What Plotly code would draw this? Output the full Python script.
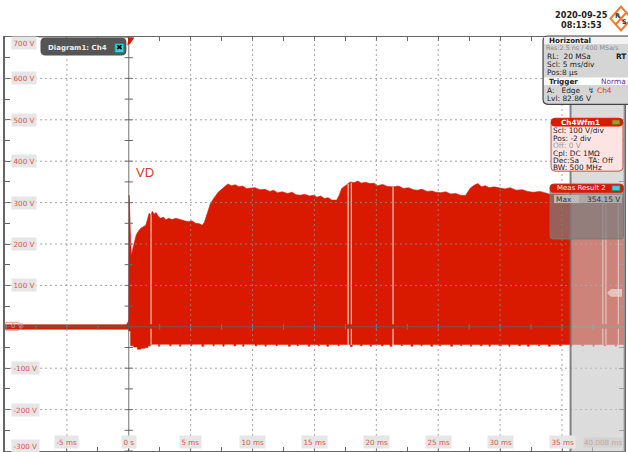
import plotly.graph_objects as go

# ---------- data (ms, V) ----------
upper_t = [-10, -0.2, -0.05, 0.0, 0.02, 0.06, 0.12, 0.2, 0.3, 0.43, 0.6, 0.8, 0.97, 1.2, 1.37, 1.5, 1.64, 1.8, 1.9, 2.05, 2.2, 2.4, 2.58,
           2.8, 3.0, 3.2, 3.5, 3.8, 4.19, 4.5, 4.8, 5.1, 5.4, 5.7, 5.94, 6.1, 6.3, 6.6, 6.9, 7.26, 7.5, 7.82, 8.0, 8.3, 8.6,
           8.9, 9.2, 9.5, 9.84, 10.2, 10.6, 11.0, 11.4, 11.7, 12.0, 12.4, 12.8, 13.2, 13.5, 13.87, 14.2, 14.6, 15.0, 15.2, 15.5,
           15.8, 16.1, 16.4, 16.8, 17.0, 17.2, 17.5, 17.7, 17.9, 18.2, 18.5, 18.8, 19.1, 19.5, 19.8, 20.1, 20.5, 20.9, 21.4,
           21.8, 22.2, 22.6, 23.0, 23.3, 23.7, 24.1, 24.5, 24.8, 25.2, 25.6, 26.0, 26.4, 26.8, 27.2, 27.4, 27.6, 27.9, 28.2,
           28.5, 28.8, 29.1, 29.5, 30.0, 30.4, 30.8, 31.3, 31.8, 32.2, 32.7, 33.2, 33.6, 34.0, 35.0, 36.0, 37.0, 38.0, 39.0, 40.008]
upper_v = [5, 5, 12, 20, 318, 300, 230, 173, 185, 205, 222, 232, 238, 242, 245, 258, 274, 270, 279, 272, 276, 266, 262,
           265, 258, 262, 259, 262, 258, 256, 254, 256, 250, 249, 245, 252, 270, 298, 312, 326, 332, 342, 345, 341, 343,
           338, 340, 334, 335, 336, 331, 332, 327, 330, 324, 326, 322, 325, 319, 318, 320, 316, 318, 313, 316,
           310, 312, 306, 306, 318, 334, 340, 346, 350, 348, 352, 347, 349, 346, 347, 341, 344, 339, 338,
           340, 334, 336, 331, 330, 332, 327, 328, 325, 324, 326, 321, 322, 318, 317, 325, 335, 342, 346,
           338, 341, 336, 338, 335, 333, 336, 330, 331, 327, 325, 327, 324, 320, 319, 317, 318, 314, 315, 312]
lower_t = [-10, -0.05, 0.0, 0.15, 0.4, 0.7, 1.0, 1.3, 1.55, 1.75, 2.4, 2.5, 3.3, 3.42, 4.1, 4.2, 5.0, 5.1, 5.9, 6.05, 6.8, 6.9, 7.6, 7.7,
           8.5, 8.65, 9.2, 9.3, 10.2, 10.35, 11.0, 11.1, 11.9, 12.0, 12.9, 13.05, 13.6, 13.7, 14.5, 14.62, 15.3, 15.4, 16.0, 16.15,
           16.9, 17.0, 17.9, 18.05, 18.7, 18.85, 19.5, 19.6, 20.4, 20.55, 21.1, 21.25, 22.0, 22.1, 22.8, 22.95, 23.6, 23.7, 24.4, 24.55,
           25.1, 25.2, 26.0, 26.15, 26.8, 26.9, 27.6, 27.7, 28.4, 28.55, 29.1, 29.2, 29.9, 30.1, 30.7, 30.8, 31.5, 31.65, 32.2, 32.35,
           33.1, 33.2, 33.9, 34.05, 34.8, 34.95, 35.7, 35.8, 36.6, 36.75, 37.5, 37.6, 38.4, 38.55, 39.3, 39.4, 40.008]
lower_v = [-6, -6, -10, -46, -49, -54, -52, -50, -46, -42, -47, -42, -46, -42, -47, -42, -46, -42, -47, -42, -46, -42, -47, -42,
           -46, -42, -47, -42, -46, -43, -47, -43, -46, -43, -47, -43, -46, -43, -47, -43, -46, -43, -47, -43,
           -46, -43, -48, -43, -46, -43, -47, -43, -46, -43, -47, -43, -46, -43, -47, -43, -46, -43, -47, -43,
           -46, -43, -47, -43, -46, -43, -47, -43, -46, -43, -47, -43, -46, -43, -47, -43, -46, -43, -47, -43,
           -46, -43, -47, -43, -46, -43, -47, -43, -46, -43, -47, -43, -46, -43, -47, -43, -43]
gap_t = [1.8, 17.72, 17.98, 21.35, 38.3, 38.55, 39.55]
gap_top = [272, 345, 348, 338, 315, 315, 312]
gap_bottom = [-42, -44, -44, -44, -44, -44, -44]
x_grid = [-5, 0, 5, 10, 15, 20, 25, 30, 35]
y_grid = [600, 500, 400, 300, 200, 100, -100, -200]
x_tick_labels = ["-5 ms", "0 s", "5 ms", "10 ms", "15 ms", "20 ms", "25 ms", "30 ms", "35 ms"]
y_tick_values = [700, 600, 500, 400, 300, 200, 100, -100, -200, -300]
y_tick_labels = ["700 V", "600 V", "500 V", "400 V", "300 V", "200 V", "100 V", "-100 V", "-200 V", "-300 V"]
center_ticks_v = [650, 550, 450, 350, 250, 150, 50, -50, -150, -250, 700, 600, 500, 400, 300, 200, 100, -100, -200, -300]
center_ticks_t = [-7.5, -5, -2.5, 2.5, 5, 7.5, 10, 12.5, 15, 17.5, 20, 22.5, 25, 27.5, 30, 32.5, 35, 37.5]

W, H = 628, 452
L, R, T, B = 4.5, 4.0, 36.5, 0.5
RED = "#d91a00"
LABEL = "#d9544a"
FONT = "DejaVu Sans"


def px(x):
    return (x - L) / (W - L - R)


def py(y):
    return 1 - (y - T) / (H - T - B)


fig = go.Figure()
fig.add_trace(go.Scatter(x=upper_t, y=upper_v, mode="lines", line=dict(color=RED, width=0.6), hoverinfo="skip"))
fig.add_trace(go.Scatter(x=lower_t, y=lower_v, mode="lines", line=dict(color=RED, width=0.6, shape="hv"),
                         fill="tonexty", fillcolor=RED, hoverinfo="skip"))
# drop-outs in the envelope
gx, gy = [], []
for t, a, b in zip(gap_t, gap_top, gap_bottom):
    gx += [t, t, None, t, t, None]
    gy += [a, 6, None, -5, b, None]
fig.add_trace(go.Scatter(x=gx, y=gy, mode="lines", line=dict(color="#f6c9bf", width=1.2), hoverinfo="skip"))
# tick marks along the 0 s / 0 V centre axes
fig.add_trace(go.Scatter(x=[0] * len(center_ticks_v), y=center_ticks_v, mode="markers",
                         marker=dict(symbol="line-ew", size=6, line=dict(color="#666", width=1)), hoverinfo="skip"))
fig.add_trace(go.Scatter(x=center_ticks_t, y=[0] * len(center_ticks_t), mode="markers",
                         marker=dict(symbol="line-ns", size=4, line=dict(color="#777", width=1)), hoverinfo="skip"))

shapes = []
for v in x_grid:
    if v != 0:
        shapes.append(dict(type="line", xref="x", yref="y", x0=v, x1=v, y0=-300, y1=700, layer="above",
                           line=dict(color="rgba(140,140,140,0.8)", width=1, dash="2px,3px")))
for v in y_grid:
    shapes.append(dict(type="line", xref="x", yref="y", x0=-10, x1=40.008, y0=v, y1=v, layer="above",
                       line=dict(color="rgba(140,140,140,0.8)", width=1, dash="2px,3px")))
# centre axes
shapes.append(dict(type="line", xref="x", yref="y", x0=0, x1=0, y0=-300, y1=700, layer="above",
                   line=dict(color="rgba(90,90,90,0.85)", width=1)))
shapes.append(dict(type="line", xref="x", yref="y", x0=-10, x1=40.008, y0=0, y1=0, layer="above",
                   line=dict(color="rgba(100,100,100,0.85)", width=1)))


def rect(x0, y0, x1, y1, fill, line=None, lw=1):
    shapes.append(dict(type="rect", xref="paper", yref="paper", x0=px(x0), x1=px(x1), y0=py(y0), y1=py(y1),
                       fillcolor=fill, layer="above", line=dict(color=line or "rgba(0,0,0,0)", width=lw if line else 0)))


def path(points, fill="rgba(0,0,0,0)", line=None, lw=1, close=True):
    d = "M " + " L ".join(f"{px(a):.5f},{py(b):.5f}" for a, b in points) + (" Z" if close else "")
    shapes.append(dict(type="path", xref="paper", yref="paper", path=d, fillcolor=fill, layer="above",
                       line=dict(color=line or "rgba(0,0,0,0)", width=lw if line else 0)))


def rounded(x0, y0, x1, y1, r, fill, line=None, lw=1):
    d = (f"M {px(x0+r):.5f},{py(y0):.5f} L {px(x1-r):.5f},{py(y0):.5f} Q {px(x1):.5f},{py(y0):.5f} {px(x1):.5f},{py(y0+r):.5f} "
         f"L {px(x1):.5f},{py(y1-r):.5f} Q {px(x1):.5f},{py(y1):.5f} {px(x1-r):.5f},{py(y1):.5f} "
         f"L {px(x0+r):.5f},{py(y1):.5f} Q {px(x0):.5f},{py(y1):.5f} {px(x0):.5f},{py(y1-r):.5f} "
         f"L {px(x0):.5f},{py(y0+r):.5f} Q {px(x0):.5f},{py(y0):.5f} {px(x0+r):.5f},{py(y0):.5f} Z")
    shapes.append(dict(type="path", xref="paper", yref="paper", path=d, fillcolor=fill, layer="above",
                       line=dict(color=line or "rgba(0,0,0,0)", width=lw if line else 0)))


# gray zone past the acquisition end
rect(570.5, 37, 624.5, 452, "rgba(197,197,197,0.61)")
rect(569.5, 37, 571.5, 452, "rgba(110,110,110,0.85)")
rect(623.5, 37, 625, 452, "rgba(150,150,150,0.8)")
# diagram tab + trigger sliver
path([(127, 45), (128, 37), (134, 37), (130, 43)], fill=RED)
rounded(40, 37, 126, 55, 5, "#555555")
rect(38, 36, 128, 37, "#777777")
rect(114.5, 43, 123.5, 52, "#35d6dc", "#1a8a90", 1)
# horizontal panel
rounded(543, 35.5, 640, 104, 5, "#d5d5d5", "#444444", 1.2)
rect(544, 36.5, 628, 43.5, "#f3f3f3")
rect(544, 77, 628, 84.5, "#ffffff")
# Ch4Wfm1 panel
rounded(551, 118, 623, 171, 4, "#fde4e2", "#d94b40", 1)
rounded(551, 118, 623, 126, 4, "#d91a00", "#d91a00", 0.5)
rect(612, 119.5, 620, 124.5, "#b8921e", "#6b5a20", 0.8)
# Meas panel
rounded(550, 184, 623.5, 239, 3, "rgba(125,125,125,0.72)", "rgba(120,120,120,0.9)", 1)
rounded(550, 184, 623.5, 192.5, 4, "#d91a00", "#d91a00", 0.5)
rect(554, 195, 622, 203, "rgba(190,190,190,0.65)")
rect(554, 195, 579, 203, "rgba(200,190,185,0.8)")
rect(612, 185.5, 620, 190.5, "#35d6dc", "#1a8a90", 0.8)
# ch marker at left
path([(5.5, 322.5), (18, 322.5), (23, 326.5), (18, 330.5), (5.5, 330.5)], line="#e0837a", lw=0.8)
# TA marker
path([(622, 289), (611, 289), (607, 293), (611, 297), (622, 297)], fill="rgba(235,215,212,0.75)")
# R&S logo
path([(621, 6), (631.5, 18), (621, 30), (610.5, 18)], line="#f07a28", lw=2)
path([(615.7, 12), (626.2, 24)], line="#f07a28", lw=2, close=False)
path([(626.2, 12), (615.7, 24)], line="#f07a28", lw=2, close=False)

ann = []


def txt(x, y, s, color="#222222", size=7.4, anchor="left", bold=False, family=FONT, bg=None):
    ann.append(dict(xref="paper", yref="paper", x=px(x), y=py(y), text=f"<b>{s}</b>" if bold else s, showarrow=False,
                    xanchor=anchor, yanchor="middle", font=dict(color=color, size=size, family=family),
                    bgcolor=bg, borderpad=0))


# axis labels, placed through the axes
for v, s in zip(y_tick_values, y_tick_labels):
    yv = v if v != 700 else 686
    yv = yv if v != -300 else -287
    ann.append(dict(xref="paper", yref="y", x=px(10.5), y=yv, text=s, showarrow=False, xanchor="left", yanchor="middle",
                    font=dict(color=LABEL, size=7.2, family=FONT), bgcolor="#e6e6e6", borderpad=1.5))
for v, s in zip(x_grid, x_tick_labels):
    ann.append(dict(xref="x", yref="y", x=v, y=-278, text=s, showarrow=False, xanchor="center", yanchor="middle",
                    font=dict(color=LABEL, size=7.2, family=FONT), bgcolor="#e6e6e6", borderpad=1.5))
txt(622.5, 442.5, "40.008 ms", color="#c9a5a0", size=7.2, anchor="right", bg="#d2d2d2")

txt(135, 172, "VD", color="#d93a2a", size=13, family="Liberation Sans")
txt(47, 47.5, "Diagram1: Ch4", color="#eeeeee", size=7, bold=True)
txt(119, 47.5, "✖", color="#000000", size=8, anchor="center")
txt(581.5, 14, "2020-09-25", size=8.2, anchor="center", bold=True)
txt(581.5, 24, "08:13:53", size=8.2, anchor="center", bold=True)
txt(617, 15, "R", color="#444444", size=6.5, anchor="center", bold=True)
txt(624, 21, "S", color="#444444", size=6.5, anchor="center", bold=True)

txt(548, 39.8, "Horizontal", size=7.2, bold=True)
txt(545, 47.5, "Res:2.5 ns / 400 MSa/s", color="#8a8a8a", size=6.4)
txt(546, 56, "RL:  20 MSa")
txt(627.5, 56, "RT", anchor="right", bold=True)
txt(546, 64.3, "Scl: 5 ms/div")
txt(546, 72.5, "Pos:8 µs")
txt(548, 81, "Trigger", size=7.2, bold=True)
txt(627.5, 81, "Norma", color="#7a2aa0", anchor="right")
txt(546, 89.8, "A:   Edge")
txt(587, 89.8, "↯", color="#333333")
txt(596, 89.8, "Ch4", color="#d93a2a")
txt(546, 97.8, "Lvl: 82.86 V")

txt(580.5, 122, "Ch4Wfm1", color="#ffffff", size=7.2, anchor="center", bold=True)
txt(552, 130, "Scl: 100 V/div")
txt(552, 137.8, "Pos: -2 div")
txt(552, 145, "Off: 0 V", color="#999999")
txt(552, 152.8, "Cpl: DC 1MΩ")
txt(552, 160, "Dec:Sa    TA: Off")
txt(552, 167, "BW: 500 MHz")

txt(556, 188, "Meas Result 2", color="#f5f5f5", size=7)
txt(555, 199, "Max", color="#333333")
txt(621, 199, "354.15 V", color="#333333", anchor="right")
txt(10, 326.5, "0 V", color="#c9a5a0", size=7)

fig.update_layout(
    width=W, height=H, autosize=False, showlegend=False, paper_bgcolor="white", plot_bgcolor="white",
    margin=dict(l=L, r=R, t=T, b=B, pad=0),
    shapes=shapes, annotations=ann,
    xaxis=dict(range=[-10, 40.008], showgrid=False, zeroline=False, showticklabels=False, ticks="inside", ticklen=4,
               tickcolor="#666", tick0=0, dtick=2.5, showline=True, linecolor="#666", linewidth=1, mirror="ticks", fixedrange=True),
    yaxis=dict(range=[-300, 700], showgrid=False, zeroline=False, showticklabels=False, ticks="inside", ticklen=5,
               tickcolor="#666", tick0=0, dtick=50, showline=True, linecolor="#666", linewidth=1.5, mirror="ticks", fixedrange=True),
)
fig.write_html("out.html", config=dict(displayModeBar=False), post_script="document.body.style.margin='0';")
